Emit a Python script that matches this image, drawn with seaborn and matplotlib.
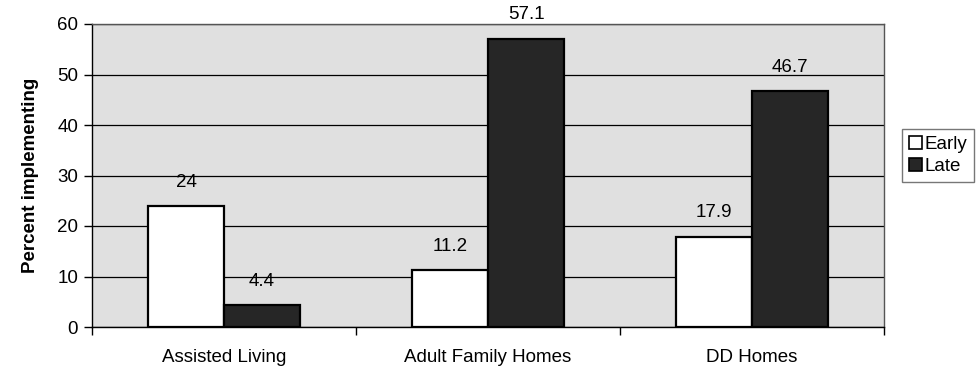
import numpy as np
import pandas as pd
import matplotlib
matplotlib.use("Agg")
import matplotlib.pyplot as plt
import seaborn as sns
from matplotlib.patches import Patch

# chart values
categories = ["Assisted Living", "Adult Family Homes", "DD Homes"]
groups = ["Early", "Late"]
early = [24, 11.2, 17.9]
late = [4.4, 57.1, 46.7]
labels_early = ["24", "11.2", "17.9"]
labels_late = ["4.4", "57.1", "46.7"]

df = pd.DataFrame({
    "setting": categories * 2,
    "period": ["Early"] * 3 + ["Late"] * 3,
    "pct": early + late,
})

sns.set_style("white")
plt.rcParams["font.family"] = ["Liberation Sans", "DejaVu Sans"]
plt.rcParams["text.color"] = "black"
plt.rcParams["axes.labelcolor"] = "black"
plt.rcParams["xtick.color"] = "black"
plt.rcParams["ytick.color"] = "black"
fs = 13.5

fig = plt.figure(figsize=(9.76, 3.75), dpi=100)
ax = fig.add_axes([92 / 976, 1 - 327 / 375, 792 / 976, 303 / 375])

colors = {"Early": "#ffffff", "Late": "#262626"}
sns.barplot(data=df, x="setting", y="pct", hue="period", order=categories,
            hue_order=groups, palette=colors, width=0.576, dodge=True,
            edgecolor="black", linewidth=1.6, legend=False, ax=ax, zorder=3)

for container, labs in zip(ax.containers, [labels_early, labels_late]):
    ax.bar_label(container, labels=labs, padding=11, fontsize=fs, color="black")

ax.set_facecolor("#e0e0e0")
ax.set_ylim(0, 60)
ax.set_xlim(-0.5, 2.5)
ax.set_yticks(np.arange(0, 61, 10))
ax.yaxis.grid(True, color="black", linewidth=0.9, zorder=0)
ax.set_axisbelow(True)
for s in ["top", "right"]:
    ax.spines[s].set_color("#555555")
    ax.spines[s].set_linewidth(1)
for s in ["left", "bottom"]:
    ax.spines[s].set_color("black")
    ax.spines[s].set_linewidth(1)

ax.set_xticks([0, 1, 2])
ax.set_xticklabels(categories, fontsize=fs)
ax.tick_params(axis="x", length=0, pad=16)
ax.set_xticks([-0.5, 0.5, 1.5, 2.5], minor=True)
ax.tick_params(axis="x", which="minor", length=6, width=1, direction="out", bottom=True)
ax.tick_params(axis="y", length=6, width=1, direction="out", left=True, labelsize=fs, pad=4)
ax.set_xlabel("")
ax.set_ylabel("Percent implementing", fontsize=fs, fontweight="bold", labelpad=13)

handles = [Patch(facecolor=colors[g], edgecolor="black", linewidth=1.2, label=g) for g in groups]
leg = fig.legend(handles=handles, loc="upper left", bbox_to_anchor=(902 / 976, 1 - 129 / 375),
                 frameon=True, fancybox=False, fontsize=fs, handlelength=0.7, handleheight=0.7,
                 handletextpad=0.15, borderpad=0.35, labelspacing=0.3, borderaxespad=0)
leg.get_frame().set_edgecolor("#555555")
leg.get_frame().set_linewidth(1)

fig.savefig("out.png", dpi=100)
